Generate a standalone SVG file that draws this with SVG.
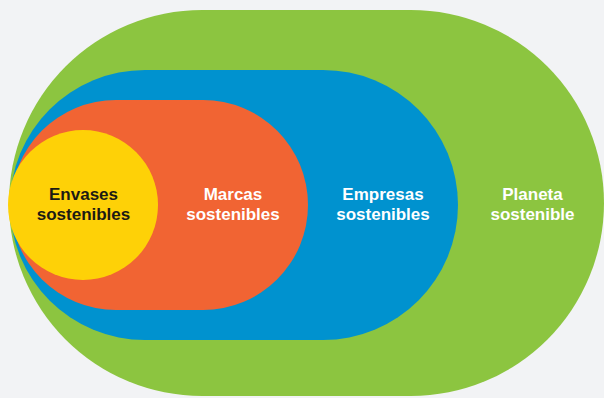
<svg xmlns="http://www.w3.org/2000/svg" width="604" height="398" viewBox="0 0 604 398">
<style>
.t{font-family:"Liberation Sans",Arial,sans-serif;font-weight:bold;font-size:17px;text-anchor:middle}
.w{fill:#ffffff}
.d{fill:#1c1a14}
</style>
<rect x="0" y="0" width="604" height="398" fill="#f2f3f5"/>
<g id="planeta">
<rect x="9" y="10" width="595" height="386" rx="193" ry="193" fill="#8cc540"/>
<text class="t w" x="532.5" y="200">Planeta</text>
<text class="t w" x="532.5" y="220">sostenible</text>
</g>
<g id="empresas">
<rect x="10" y="70" width="448" height="270" rx="135" ry="135" fill="#0092cf"/>
<text class="t w" x="383" y="200">Empresas</text>
<text class="t w" x="383" y="220">sostenibles</text>
</g>
<g id="marcas">
<rect x="11" y="100" width="297" height="210" rx="105" ry="105" fill="#f16433"/>
<text class="t w" x="233" y="200">Marcas</text>
<text class="t w" x="233" y="220">sostenibles</text>
</g>
<g id="envases">
<circle cx="83" cy="205" r="75" fill="#fed107"/>
<text class="t d" x="83.5" y="200">Envases</text>
<text class="t d" x="83.5" y="220">sostenibles</text>
</g>
<g id="connectors"/>
</svg>
